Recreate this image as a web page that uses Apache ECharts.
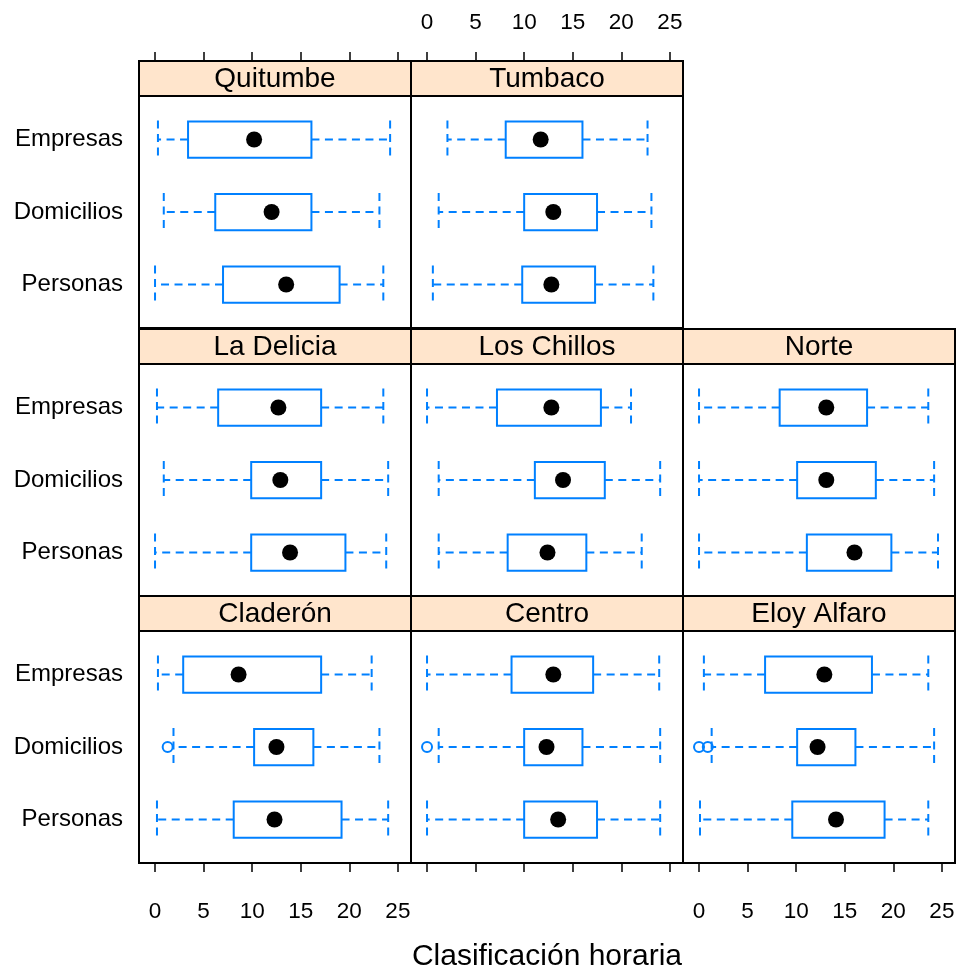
<!DOCTYPE html>
<html>
<head>
<meta charset="utf-8">
<script src="https://cdn.jsdelivr.net/npm/echarts@6/dist/echarts.min.js"></script>
<style>
  html, body { margin: 0; padding: 0; background: #fff; }
  #chart { width: 959px; height: 969px; }
</style>
</head>
<body>
<div id="chart"></div>
<script>
// Panel titles and the three groups shown in every panel (top to bottom)
const panelNames = ['Quitumbe', 'Tumbaco', 'La Delicia', 'Los Chillos', 'Norte', 'Claderón', 'Centro', 'Eloy Alfaro'];
const levels = ['Empresas', 'Domicilios', 'Personas'];
const tickValues = [0, 5, 10, 15, 20, 25];

// Five-number summaries per group: [lower whisker, Q1, median, Q3, upper whisker]
const quitumbe   = [[0.3, 3.4, 10.2, 16.1, 24.2], [0.9, 6.2, 12.0, 16.1, 23.1], [0.0, 7.0, 13.5, 19.0, 23.5]];
const tumbaco    = [[2.1, 8.1, 11.7, 16.0, 22.7], [1.2, 10.0, 13.0, 17.5, 23.1], [0.6, 9.8, 12.8, 17.3, 23.3]];
const laDelicia  = [[0.2, 6.5, 12.7, 17.1, 23.5], [0.9, 9.9, 12.9, 17.1, 24.0], [0.0, 9.9, 13.9, 19.6, 23.8]];
const losChillos = [[0.0, 7.2, 12.8, 17.9, 21.0], [1.2, 11.1, 14.0, 18.3, 24.0], [1.2, 8.3, 12.4, 16.4, 22.1]];
const norte      = [[0.0, 8.3, 13.1, 17.3, 23.6], [0.0, 10.1, 13.1, 18.2, 24.2], [0.0, 11.1, 16.0, 19.8, 24.6]];
const claderon   = [[0.3, 2.9, 8.6, 17.1, 22.3], [1.9, 10.2, 12.5, 16.3, 23.1], [0.2, 8.1, 12.3, 19.2, 24.0]];
const centro     = [[0.0, 8.7, 13.0, 17.1, 23.9], [1.2, 10.0, 12.3, 16.0, 24.0], [0.0, 10.0, 13.5, 17.5, 24.0]];
const eloyAlfaro = [[0.5, 6.8, 12.9, 17.8, 23.6], [1.3, 10.1, 12.2, 16.1, 24.2], [0.1, 9.6, 14.1, 19.1, 23.6]];
const panelStats = [quitumbe, tumbaco, laDelicia, losChillos, norte, claderon, centro, eloyAlfaro];

// Outlying observations: panel index, group index, value
const outlierPanel = [5, 6, 7, 7];
const outlierLevel = [1, 1, 1, 1];
const outlierValue = [1.3, 0.0, 0.0, 0.9];

// Layout of the 3x3 lattice (top-right cell left empty)
const colLeft = [139, 411, 683];
const colW = 272;
const rowTop = [61, 329, 596];
const stripH = 35;
const panelH = 232;
const cells = [[0, 0], [0, 1], [1, 0], [1, 1], [1, 2], [2, 0], [2, 1], [2, 2]];

const BLUE = '#0080ff';
const STRIP = '#ffe5cc';
const FONT = '"Liberation Sans", Arial, Helvetica, sans-serif';
const X_MIN = -1.65, X_MAX = 26.35;

function renderBox(params, api) {
  const lvl = api.value(0);
  const pt = k => api.coord([api.value(k), lvl]);
  const lo = pt(1), q1 = pt(2), md = pt(3), q3 = pt(4), hi = pt(5);
  const y = md[1];
  const h = api.size([0, 0.5])[1];
  const dash = { stroke: BLUE, lineWidth: 2, lineDash: [8, 5.5], fill: null };
  const solid = { stroke: BLUE, lineWidth: 2, fill: null };
  return {
    type: 'group',
    children: [
      { type: 'line', shape: { x1: q1[0], y1: y, x2: lo[0], y2: y }, style: dash },
      { type: 'line', shape: { x1: q3[0], y1: y, x2: hi[0], y2: y }, style: dash },
      { type: 'line', shape: { x1: lo[0], y1: y - h / 2 - 1, x2: lo[0], y2: y + h / 2 + 1 }, style: dash },
      { type: 'line', shape: { x1: hi[0], y1: y - h / 2 - 1, x2: hi[0], y2: y + h / 2 + 1 }, style: dash },
      { type: 'rect', shape: { x: q1[0], y: y - h / 2, width: q3[0] - q1[0], height: h }, style: solid },
      { type: 'circle', shape: { cx: md[0], cy: y, r: 8 }, style: { fill: '#000' } }
    ]
  };
}

const grids = [], xAxes = [], yAxes = [], series = [], graphics = [];

function tickAxis(gridIndex, position, showLabels, margin, offset) {
  return {
    gridIndex, type: 'value', min: X_MIN, max: X_MAX, position, offset: offset || 0,
    axisLine: { show: false },
    axisTick: { show: true, inside: false, length: 9, customValues: tickValues, lineStyle: { color: '#000', width: 1.5 } },
    axisLabel: { show: showLabels, customValues: tickValues, margin, fontSize: 22.5, color: '#000', fontFamily: FONT },
    splitLine: { show: false }
  };
}

cells.forEach(([r, c], i) => {
  const left = colLeft[c];
  const top = rowTop[r] + stripH;
  grids.push({ left, top, width: colW, height: panelH, show: true, borderColor: '#000', borderWidth: 2, backgroundColor: '#fff' });

  if (r === 2) {
    xAxes.push(tickAxis(i, 'bottom', c !== 1, 37));
  } else {
    xAxes.push({ gridIndex: i, type: 'value', min: X_MIN, max: X_MAX, show: false });
  }

  yAxes.push({
    gridIndex: i, type: 'value', min: 0.4, max: 3.6, inverse: true,
    axisLine: { show: false }, axisTick: { show: false }, splitLine: { show: false },
    axisLabel: {
      show: c === 0, customValues: [1, 2, 3], margin: 16,
      formatter: v => levels[Math.round(v) - 1],
      fontSize: 24, color: '#000', fontFamily: FONT
    }
  });

  series.push({
    type: 'custom', xAxisIndex: i, yAxisIndex: i, silent: true, clip: false,
    encode: { x: [1, 2, 3, 4, 5], y: 0 },
    data: panelStats[i].map((s, j) => [j + 1].concat(s)),
    renderItem: renderBox
  });

  const pts = [];
  outlierPanel.forEach((p, k) => { if (p === i) pts.push([outlierValue[k], outlierLevel[k] + 1]); });
  if (pts.length) {
    series.push({
      type: 'scatter', xAxisIndex: i, yAxisIndex: i, silent: true, data: pts,
      symbol: 'circle', symbolSize: 10,
      itemStyle: { color: 'rgba(0,0,0,0)', borderColor: BLUE, borderWidth: 2, opacity: 1 }
    });
  }

  // strip with the panel title
  graphics.push({
    type: 'rect', z: 10,
    shape: { x: left, y: rowTop[r], width: colW, height: stripH },
    style: { fill: STRIP, stroke: '#000', lineWidth: 2 }
  });
  graphics.push({
    type: 'text', z: 11, x: left + colW / 2, y: rowTop[r] + stripH / 2 + 1,
    style: { text: panelNames[i], font: '28px ' + FONT, fill: '#000', align: 'center', verticalAlign: 'middle' }
  });
});

// ticks above the strips of the top row; labels only over the second column
[0, 1].forEach(i => {
  xAxes.push(tickAxis(i, 'top', i === 1, 27, stripH));
});

graphics.push({
  type: 'text', z: 11, x: 547, y: 957,
  style: { text: 'Clasificación horaria', font: '30px ' + FONT, fill: '#000', align: 'center', verticalAlign: 'middle' }
});

const chart = echarts.init(document.getElementById('chart'), null, { renderer: 'canvas' });
chart.setOption({
  animation: false,
  backgroundColor: '#fff',
  grid: grids,
  xAxis: xAxes,
  yAxis: yAxes,
  series,
  graphic: graphics
});
</script>
</body>
</html>
